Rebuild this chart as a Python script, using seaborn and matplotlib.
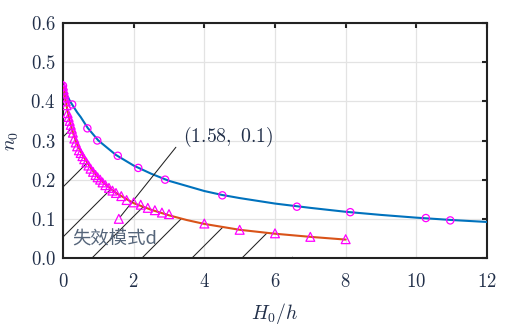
import numpy as np
import pandas as pd
import matplotlib
matplotlib.use("Agg")
import matplotlib.pyplot as plt
from matplotlib.ticker import FuncFormatter
import seaborn as sns

# ---- data ----
# fitted curve, upper (blue)
blue_x = [0, 0.05, 0.1, 0.2, 0.3, 0.4, 0.5, 0.7, 1.0, 1.5, 2.0, 2.5, 3.0, 4.0, 4.5,
          5.0, 6.0, 7.0, 8.0, 9.0, 10.0, 11.0, 12.0]
blue_y = [0.44, 0.428, 0.418, 0.40, 0.386, 0.372, 0.36, 0.332, 0.30, 0.263, 0.236,
          0.215, 0.197, 0.171, 0.161, 0.153, 0.139, 0.128, 0.118, 0.110, 0.103, 0.097, 0.092]
# measured points, upper (circles)
circ_x = [0.0, 0.26, 0.69, 0.97, 1.55, 2.13, 2.89, 4.51, 6.62, 8.13, 10.27, 10.96]
circ_y = [0.44, 0.392, 0.331, 0.30, 0.261, 0.23, 0.20, 0.16, 0.131, 0.117, 0.102, 0.096]

# fitted curve, lower (orange)
org_x = [0, 0.03, 0.06, 0.1, 0.15, 0.2, 0.3, 0.4, 0.5, 0.6, 0.8, 1.0, 1.2, 1.5, 2.0,
         2.5, 3.0, 3.5, 4.0, 5.0, 6.0, 6.5, 7.0, 8.0]
org_y = [0.44, 0.425, 0.412, 0.39, 0.365, 0.345, 0.315, 0.29, 0.272, 0.256, 0.228,
         0.205, 0.188, 0.166, 0.14, 0.123, 0.109, 0.097, 0.087, 0.072, 0.062, 0.058,
         0.054, 0.047]
# measured points, lower (triangles)
tri_x = [0, 0.02, 0.04, 0.06, 0.08, 0.10, 0.13, 0.16, 0.19, 0.22, 0.25, 0.28, 0.32,
         0.36, 0.40, 0.45, 0.50, 0.55, 0.60, 0.66, 0.72, 0.78, 0.85, 0.92, 0.98, 1.05,
         1.12, 1.20, 1.30, 1.40, 1.50, 1.58, 1.65, 1.80, 2.00, 2.20, 2.40, 2.60, 2.80,
         3.00, 4.00, 5.00, 6.00, 7.00, 8.00]
tri_y = [0.44, 0.43, 0.42, 0.41, 0.40, 0.39, 0.37, 0.36, 0.35, 0.34, 0.33, 0.32, 0.305,
         0.295, 0.285, 0.275, 0.268, 0.26, 0.252, 0.244, 0.236, 0.228, 0.22, 0.212,
         0.206, 0.20, 0.193, 0.186, 0.179, 0.172, 0.166, 0.10, 0.158, 0.148, 0.142,
         0.136, 0.128, 0.122, 0.116, 0.112, 0.088, 0.072, 0.063, 0.054, 0.048]

hatch_end = 6.5
x_ticks = [0, 2, 4, 6, 8, 10, 12]
y_ticks = [0.0, 0.1, 0.2, 0.3, 0.4, 0.5, 0.6]
annot_text = r"$(1.58,\ 0.1)$"
region_label = "失效模式d"
x_label = r"$H_0/h$"
y_label = r"$n_0$"

# ---- style ----
sns.set_style("white")
plt.rcParams["font.family"] = ["DejaVu Serif"]
plt.rcParams["mathtext.fontset"] = "cm"
plt.rcParams["hatch.linewidth"] = 0.5
text_col = "#22304a"

DPI = 150
fig = plt.figure(figsize=(519 / DPI, 329 / DPI), dpi=DPI)
ax = fig.add_axes([63 / 519, 1 - 258 / 329, (487 - 63) / 519, (258 - 23) / 329])

blue_df = pd.DataFrame({"x": blue_x, "y": blue_y})
org_df = pd.DataFrame({"x": org_x, "y": org_y})
circ_df = pd.DataFrame({"x": circ_x, "y": circ_y})
tri_df = pd.DataFrame({"x": tri_x, "y": tri_y})

# hatched failure region under lower curve
hx = np.array(org_x)
hy = np.array(org_y)
m = hx <= hatch_end
ax.fill_between(hx[m], 0, hy[m], facecolor="none", edgecolor="#222222",
                hatch="/", linewidth=0, zorder=1)

sns.lineplot(data=blue_df, x="x", y="y", ax=ax, color="#0072BD", lw=1.0,
             sort=False, estimator=None, zorder=3)
sns.lineplot(data=org_df, x="x", y="y", ax=ax, color="#D95319", lw=1.0,
             sort=False, estimator=None, zorder=3)
sns.scatterplot(data=circ_df, x="x", y="y", ax=ax, marker="o", s=12,
                facecolor="none", edgecolor="#FF00FF", linewidth=0.6, zorder=4)
sns.scatterplot(data=tri_df, x="x", y="y", ax=ax, marker="^", s=18,
                facecolor="none", edgecolor="#FF00FF", linewidth=0.6, zorder=4)

ax.annotate(annot_text, xy=(1.62, 0.105), xytext=(3.4, 0.309),
            fontsize=9.5, color=text_col, va="center", ha="left",
            arrowprops=dict(arrowstyle="-", lw=0.5, color="#222222",
                            shrinkA=2, shrinkB=0, relpos=(0, 0.45)))
ax.text(0.25, 0.046, region_label, fontsize=8.8, color="#55657a",
        family=["Noto Sans CJK SC", "DejaVu Sans"], va="center", ha="left")

ax.set_xlim(0, 12)
ax.set_ylim(0, 0.6)
ax.set_xticks(x_ticks)
ax.set_yticks(y_ticks)
ax.xaxis.set_major_formatter(FuncFormatter(lambda v, p: f"${v:.0f}$"))
ax.yaxis.set_major_formatter(FuncFormatter(lambda v, p: f"${v:.1f}$"))
ax.grid(True, color="#e3e3e3", lw=0.6)
ax.set_axisbelow(True)
for s in ax.spines.values():
    s.set_linewidth(1.0)
    s.set_color("#222222")
    s.set_visible(True)
ax.tick_params(direction="in", length=2.5, width=1.0, top=True, right=True,
               labelsize=9, labelcolor=text_col, color="#222222")
ax.tick_params(axis="x", pad=7)
ax.tick_params(axis="y", pad=3.5)
ax.set_xlabel(x_label, fontsize=9.5, color=text_col)
ax.set_ylabel(y_label, fontsize=9.5, color=text_col)
ax.xaxis.set_label_coords(0.5, -0.183)
ax.yaxis.set_label_coords(-0.098, 0.5)

fig.savefig("out.png", dpi=DPI)
